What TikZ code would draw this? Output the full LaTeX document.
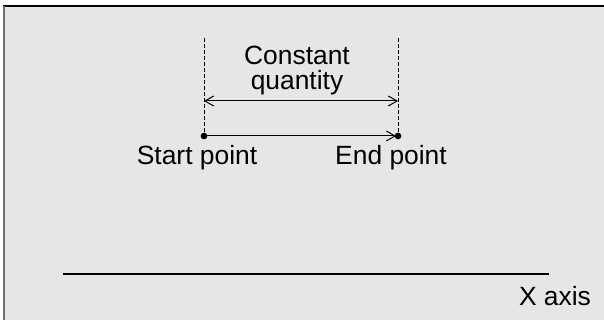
\documentclass[tikz,border=0pt]{standalone}
\usepackage{fontspec}
\setmainfont{Liberation Sans}
\usetikzlibrary{arrows.meta}
\definecolor{bg}{HTML}{E6E6E6}
\definecolor{edgegray}{HTML}{707070}
\begin{document}
\begin{tikzpicture}[x=0.75pt,y=-0.75pt,
  lbl/.style={inner sep=0pt,anchor=base,font=\fontsize{19.8pt}{18.75pt}\selectfont},
  guide/.style={line width=0.75pt,dash pattern=on 3pt off 1.5pt},
  barb/.tip={Straight Barb[length=6.5pt,width=7.5pt,line width=0.75pt]},
  vec/.style={line width=0.75pt,-barb,shorten >=1.5pt},
  dim/.style={line width=0.75pt,barb-barb},
  dot/.style={circle,fill=black,inner sep=0pt,minimum size=5pt}]
\useasboundingbox (0,0) rectangle (604,320);
\fill[bg] (3,6) rectangle (604,320);
\draw[line width=1.5pt] (3,6.5) -- (604,6.5);
\draw[edgegray,line width=1.5pt] (4,6) -- (4,320);
% points
\node[dot] (s) at (204,136) {};
\node[dot] (e) at (398,136) {};
\coordinate (st) at (204,38);
\coordinate (et) at (398,38);
\draw[guide] (st) -- (s);
\draw[guide] (et) -- (e);
\coordinate (al) at (204,101);
\coordinate (ar) at (398,101);
\draw[dim] (al) -- (ar);
\draw[vec] (s.center) -- (e.center);
% labels
\node[lbl] (c1) at (297,65) {Constant};
\node[lbl] (c2) at (297,90) {quantity};
\node[lbl] (sp) at (197,165) {Start point};
\node[lbl] (ep) at (391,165) {End point};
% axis
\coordinate (xa) at (63,274);
\coordinate (xb) at (549,274);
\draw[line width=1pt] (xa) -- (xb);
\node[lbl] (xl) at (555,306) {X axis};
\end{tikzpicture}
\end{document}
